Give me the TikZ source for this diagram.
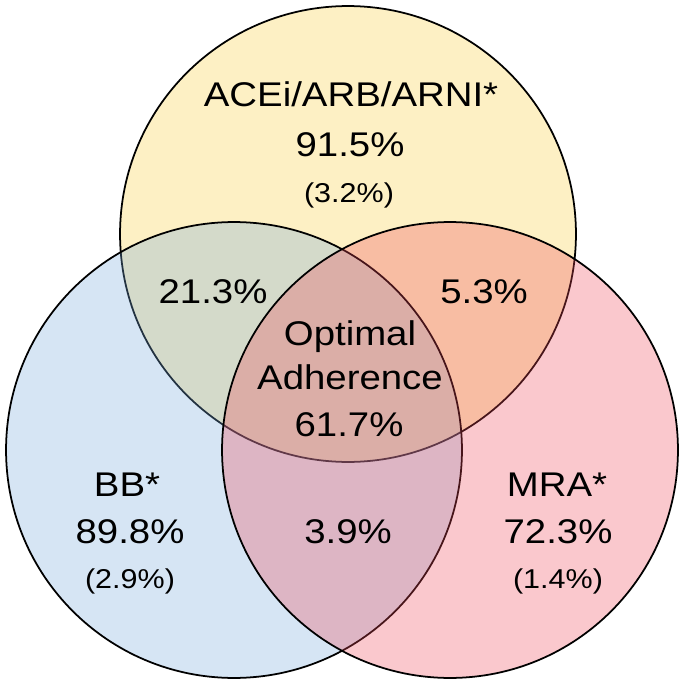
\documentclass[tikz,border=0pt]{standalone}
\usepackage{fontspec}
\setmainfont{Liberation Sans}[FakeStretch=1.12]
\definecolor{aceiyellow}{RGB}{248,205,58}
\definecolor{bbblue}{RGB}{118,168,218}
\definecolor{mrared}{RGB}{238,72,88}

\begin{document}
\begin{tikzpicture}[x=0.02cm,y=-0.02cm,
    set/.style={draw=black,line width=1pt,fill opacity=0.3},
    big/.style={anchor=base,inner sep=0pt,font=\fontsize{19.5}{23}\selectfont},
    small/.style={anchor=base,inner sep=0pt,font=\fontsize{15.5}{18}\selectfont}]
    \useasboundingbox (0,0) rectangle (685,686);

    % the three sets
    \draw[set,fill=aceiyellow] (348,234) circle[radius=4.56cm];
    \draw[set,fill=bbblue] (234,450) circle[radius=4.56cm];
    \draw[set,fill=mrared] (450,450) circle[radius=4.56cm];

    % ACEi/ARB/ARNI only
    \node[big] (acei) at (351,107) {ACEi/ARB/ARNI*};
    \node[big] (aceival) at (350,156) {91.5\%};
    \node[small] (aceisd) at (349,202) {(3.2\%)};

    % pairwise overlaps
    \node[big] (aceibb) at (213,303) {21.3\%};
    \node[big] (aceimra) at (484,303) {5.3\%};
    \node[big] (bbmra) at (348,543) {3.9\%};

    % all three
    \node[big] (opt) at (350,345) {Optimal};
    \node[big] (adh) at (350,389.5) {Adherence};
    \node[big] (optval) at (349,436) {61.7\%};

    % BB only
    \node[big] (bb) at (127,496) {BB*};
    \node[big] (bbval) at (130,543) {89.8\%};
    \node[small] (bbsd) at (130,588) {(2.9\%)};

    % MRA only
    \node[big] (mra) at (557,496) {MRA*};
    \node[big] (mraval) at (558,543) {72.3\%};
    \node[small] (mrasd) at (558,588) {(1.4\%)};
\end{tikzpicture}
\end{document}
